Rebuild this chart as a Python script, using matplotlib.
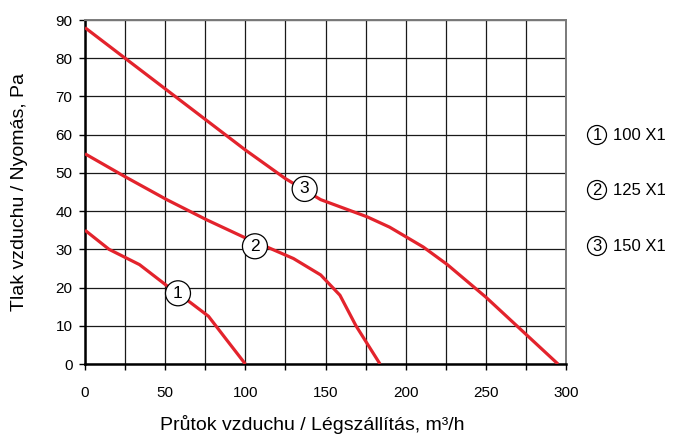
import matplotlib
matplotlib.use("Agg")
import matplotlib.pyplot as plt
from matplotlib.patches import Ellipse

plt.rcParams['font.family'] = ['Liberation Sans', 'DejaVu Sans']

# Fan curves: airflow (m3/h) vs pressure (Pa)
flow_1 = [0, 15, 34, 51, 58, 66, 77, 88, 100]
pres_1 = [35, 30, 26, 20.5, 18.5, 16, 12.5, 6.5, 0]

flow_2 = [0, 25, 51, 76, 100, 106, 113, 130, 147, 159, 169, 184]
pres_2 = [55, 49, 43, 37.7, 33, 31, 30.7, 27.6, 23.3, 18, 10, 0]

flow_3 = [0, 25, 50, 75, 100, 125, 137, 147, 176, 190, 211, 226, 250, 295]
pres_3 = [88, 80, 72, 64, 56, 48.5, 45.5, 43, 38.5, 35.8, 30.6, 26, 17.5, 0]

label_pos = [(58, 18.5), (106, 30.8), (137, 45.8)]
legend_names = ['100 X1', '125 X1', '150 X1']

red = '#e3232c'
W, H = 677, 437

fig = plt.figure(figsize=(W / 100, H / 100), dpi=100)
ax = fig.add_axes([85 / W, 1 - 364 / H, 481 / W, 344 / H])

ax.set_xlim(0, 300)
ax.set_ylim(0, 90)
ax.set_xticks(range(0, 301, 25))
ax.set_xticklabels([str(v) if v % 50 == 0 else '' for v in range(0, 301, 25)])
ax.set_yticks(range(0, 91, 10))
ax.grid(True, color='#1a1a1a', linewidth=0.9)
ax.set_axisbelow(True)

for s in ['top', 'right']:
    ax.spines[s].set_color('#7a7a7a')
    ax.spines[s].set_linewidth(1.4)
for s in ['left', 'bottom']:
    ax.spines[s].set_color('black')
    ax.spines[s].set_linewidth(1.8)

ax.tick_params(axis='both', direction='out', length=4, width=1, labelsize=11,
               colors='black')
ax.tick_params(axis='x', pad=11.5)
ax.tick_params(axis='y', pad=5)

for fx, py in [(flow_1, pres_1), (flow_2, pres_2), (flow_3, pres_3)]:
    ax.plot(fx, py, color=red, linewidth=2.3, zorder=3, solid_capstyle='butt')

# numbered circle markers on the curves
sx = 300 / 481
sy = 90 / 344
for i, (lx, ly) in enumerate(label_pos):
    ax.add_patch(Ellipse((lx, ly), 25 * sx, 25 * sy, facecolor='white',
                         edgecolor='black', linewidth=0.9, zorder=4))
    ax.text(lx, ly, str(i + 1), ha='center', va='center', fontsize=12.5, zorder=5)

ax.set_ylabel('Tlak vzduchu / Nyomás, Pa', fontsize=14)
ax.yaxis.set_label_coords((28 - 85) / 481, 0.5)
fig.text(312 / W, 1 - 425 / H, 'Průtok vzduchu / Légszállítás, m³/h',
         ha='center', va='center', fontsize=14)

# legend at the right side
leg_y = [135, 190, 246]
for i, (name, py) in enumerate(zip(legend_names, leg_y)):
    fig.add_artist(Ellipse((597 / W, 1 - py / H), 19 / W, 19 / H,
                           transform=fig.transFigure, facecolor='white',
                           edgecolor='black', linewidth=0.9))
    fig.text(597 / W, 1 - (py + 0.5) / H, str(i + 1), ha='center', va='center',
             fontsize=12)
    fig.text(613 / W, 1 - (py + 0.5) / H, name, ha='left', va='center',
             fontsize=12)

fig.savefig('out.png', dpi=100)
